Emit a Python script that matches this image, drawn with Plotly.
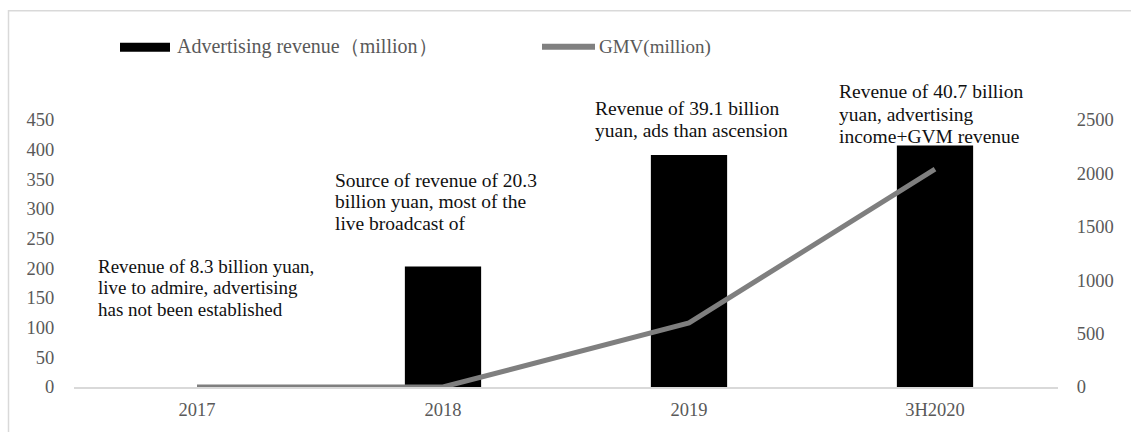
import plotly.graph_objects as go

# ---------------- data ----------------
categories = ["2017", "2018", "2019", "3H2020"]
ad_revenue = [0, 203, 391, 407]          # Advertising revenue (million), left axis
gmv = [0, 0, 600, 2040]                  # GMV (million), right axis
left_ticks = [0, 50, 100, 150, 200, 250, 300, 350, 400, 450]
right_ticks = [0, 500, 1000, 1500, 2000, 2500]
series_names = ["Advertising revenue（million）", "GMV(million)"]
notes = [
    ["Revenue of 8.3 billion yuan,", "live to admire, advertising", "has not been established"],
    ["Source of revenue of 20.3", "billion yuan, most of the", "live broadcast of"],
    ["Revenue of 39.1 billion", "yuan, ads than ascension"],
    ["Revenue of 40.7 billion", "yuan, advertising", "income+GVM revenue"],
]

# ---------------- layout geometry (pixels) ----------------
W, H = 1131, 432
L, R, T, B = 74, 1058, 120, 390
PW, PH = R - L, B - T

def xp(px):
    return (px - L) / PW

def yp(py):
    return (B - py) / PH

FONT = "Liberation Serif, Times New Roman, serif"
GREY_TXT = "#595959"

x_idx = list(range(len(categories)))

fig = go.Figure()
fig.add_trace(go.Bar(
    x=x_idx, y=ad_revenue, name=series_names[0],
    marker=dict(color="#000000", line=dict(width=0)),
    width=0.31, yaxis="y", showlegend=False,
))
fig.add_trace(go.Scatter(
    x=x_idx, y=gmv, name=series_names[1], mode="lines",
    line=dict(color="#7f7f7f", width=5), yaxis="y2", showlegend=False,
))

# note placement: (offset from category centre in category units, first line centre px, line step px, font size)
note_pos = [(-0.412, 268, 21.8, 19), (-0.447, 181, 21.8, 19.5),
            (-0.392, 108, 22.5, 19.5), (-0.40, 91, 23, 19.5)]
annotations = []
for i, (lines, (dx, y0, step, fs)) in enumerate(zip(notes, note_pos)):
    for k, line in enumerate(lines):
        annotations.append(dict(
            x=x_idx[i] + dx, y=yp(y0 + k * step), xref="x", yref="paper", text=line,
            showarrow=False, xanchor="left", yanchor="middle", align="left",
            font=dict(family=FONT, size=fs, color="#111111"),
        ))

# custom legend
annotations.append(dict(x=xp(175), y=yp(46), xref="paper", yref="paper",
                        text=series_names[0], showarrow=False, xanchor="left",
                        yanchor="middle", font=dict(family=FONT, size=20, color=GREY_TXT)))
annotations.append(dict(x=xp(597), y=yp(46), xref="paper", yref="paper",
                        text=series_names[1], showarrow=False, xanchor="left",
                        yanchor="middle", font=dict(family=FONT, size=19, color=GREY_TXT)))

shapes = [
    dict(type="rect", xref="paper", yref="paper", x0=xp(120), x1=xp(170),
         y0=yp(42), y1=yp(51), fillcolor="#000000", line=dict(width=0)),
    dict(type="line", xref="paper", yref="paper", x0=xp(542), x1=xp(595),
         y0=yp(46), y1=yp(46), line=dict(color="#808080", width=6)),
    dict(type="rect", xref="paper", yref="paper", x0=xp(8.5), x1=xp(1140),
         y0=yp(9.5), y1=yp(440), line=dict(color="#d9d9d9", width=1.5),
         fillcolor="rgba(0,0,0,0)", layer="below"),
]

fig.update_layout(
    width=W, height=H,
    margin=dict(l=L, r=W - R, t=T, b=H - B, pad=0),
    paper_bgcolor="white", plot_bgcolor="white",
    showlegend=False,
    xaxis=dict(
        range=[-0.5, len(categories) - 0.5], tickvals=x_idx, ticktext=categories,
        showgrid=False, zeroline=False, showline=True, linecolor="#d9d9d9", linewidth=1.5,
        ticks="outside", ticklen=5, tickcolor="rgba(0,0,0,0)",
        tickfont=dict(family=FONT, size=18.5, color=GREY_TXT),
    ),
    yaxis=dict(
        range=[0, 450], tickvals=left_ticks, showgrid=False, zeroline=False,
        showline=False, ticks="outside", ticklen=15, tickcolor="rgba(0,0,0,0)",
        tickfont=dict(family=FONT, size=18.5, color=GREY_TXT),
    ),
    yaxis2=dict(
        range=[0, 2500], tickvals=right_ticks, overlaying="y", side="right",
        showgrid=False, zeroline=False, showline=False, ticks="outside",
        ticklen=14, tickcolor="rgba(0,0,0,0)",
        tickfont=dict(family=FONT, size=18.5, color=GREY_TXT),
    ),
    annotations=annotations,
    shapes=shapes,
)

fig.write_html("out.html")
